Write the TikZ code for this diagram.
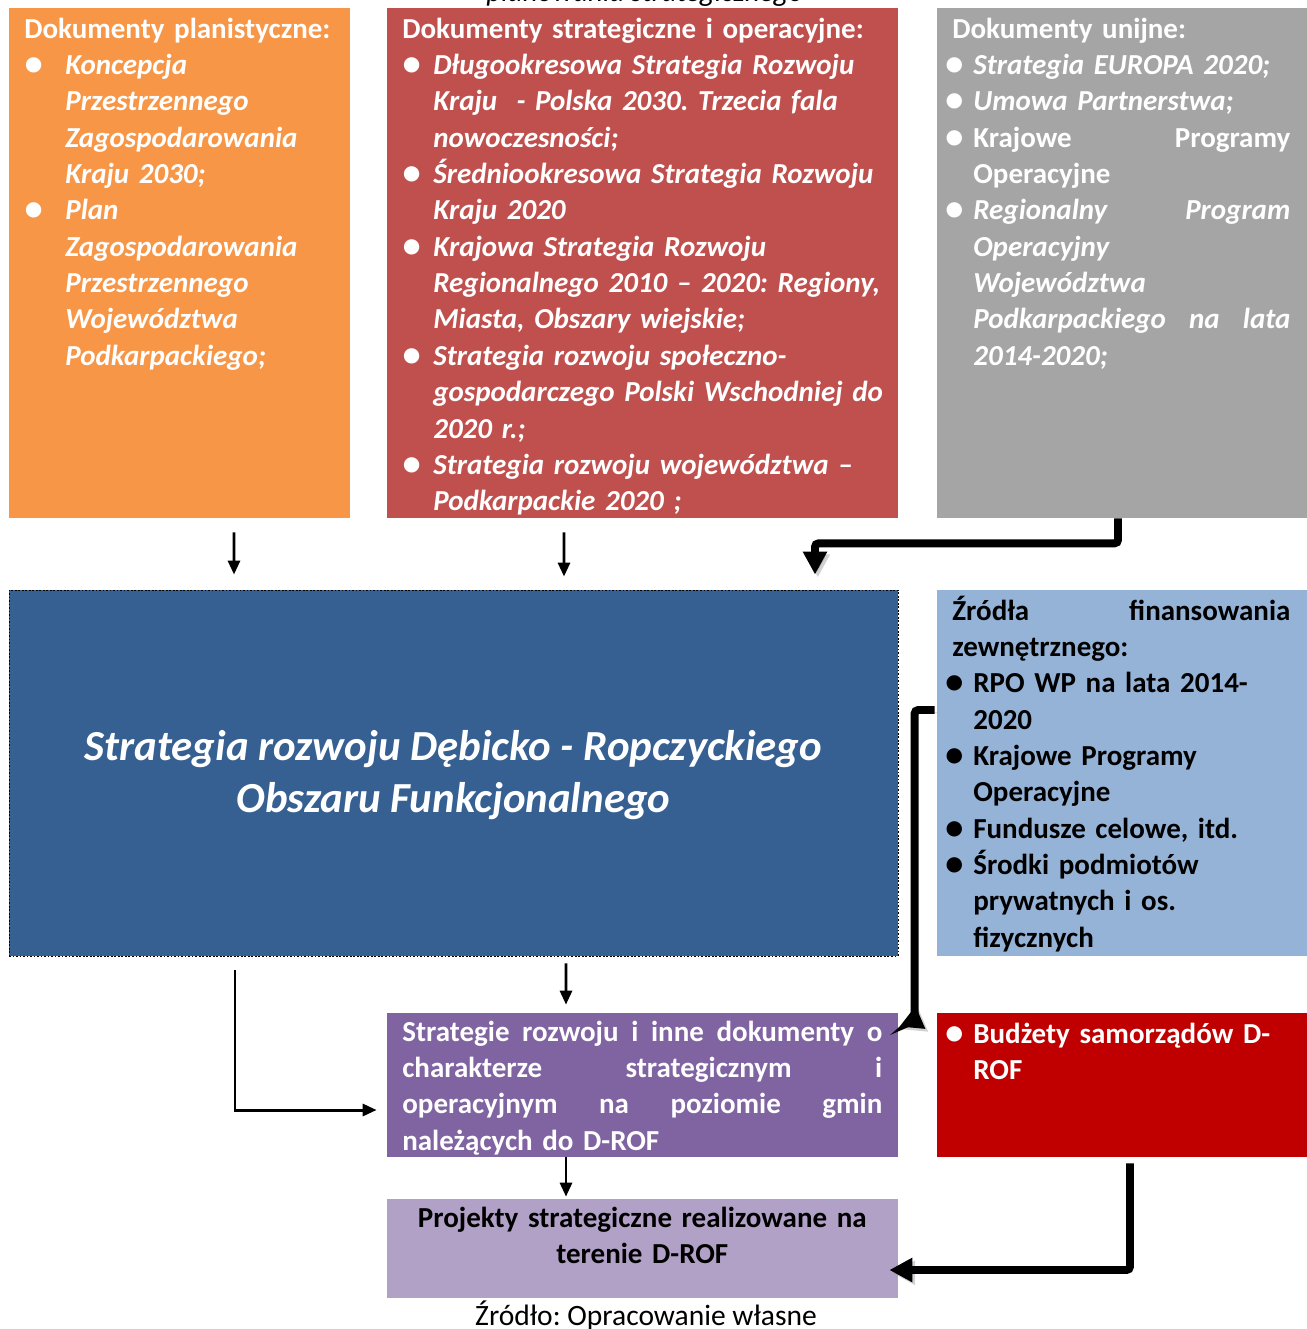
\documentclass[tikz,border=0pt]{standalone}
\usepackage{fontspec}
\setmainfont{Carlito}
\usetikzlibrary{calc,arrows.meta}

\definecolor{pomaranczowy}{HTML}{F79646}
\definecolor{czerwony}{HTML}{C0504D}
\definecolor{szary}{HTML}{A5A5A5}
\definecolor{niebieski}{HTML}{366092}
\definecolor{jasnoniebieski}{HTML}{95B3D7}
\definecolor{fioletowy}{HTML}{8064A2}
\definecolor{ciemnoczerwony}{HTML}{C00000}
\definecolor{jasnofioletowy}{HTML}{B2A1C7}

\newcommand{\pkt}[1]{\makebox[#1][l]{\raisebox{-0.6pt}{\scalebox{1.25}{\textbullet}}}}
\newcommand{\wc}[1]{\hspace*{#1}}
\frenchspacing

\begin{document}
\begin{tikzpicture}[x=0.02cm,y=-0.02cm,
    pole/.style={rectangle,inner sep=0pt,fill=#1},
    opis/.style={anchor=base west,inner sep=0pt,align=left,
        font=\fontsize{16.5}{20.7}\selectfont\bfseries},
    cienka/.style={line width=1.7pt,-{Triangle[length=0.28cm,width=0.24cm]}},
    gruba/.style={line width=4.5pt,rounded corners=2pt,
        -{Triangle[length=0.46cm,width=0.46cm]},
        preaction={draw=black!40,opacity=0.45,transform canvas={shift={(1.6pt,-1.6pt)}}}}]

    \useasboundingbox (0,0) rectangle (1307,1329);

    \node[pole=pomaranczowy,minimum width=341*0.02cm,minimum height=510*0.02cm] (plan) at (179.5,263) {};
    \node[pole=czerwony,minimum width=511*0.02cm,minimum height=510*0.02cm] (strat) at (642.5,263) {};
    \node[pole=szary,minimum width=370*0.02cm,minimum height=510*0.02cm] (unia) at (1122,263) {};
    \node[pole=niebieski,draw=black,dash pattern=on 1pt off 1pt,line width=0.5pt,
        minimum width=889*0.02cm,minimum height=366*0.02cm] (rozwoj) at (453.5,773) {};
    \node[pole=jasnoniebieski,minimum width=370*0.02cm,minimum height=366*0.02cm] (zrodla) at (1122,773) {};
    \node[pole=fioletowy,minimum width=511*0.02cm,minimum height=144*0.02cm] (gminy) at (642.5,1085) {};
    \node[pole=ciemnoczerwony,minimum width=370*0.02cm,minimum height=144*0.02cm] (budzet) at (1122,1085) {};
    \node[pole=jasnofioletowy,minimum width=511*0.02cm,minimum height=99*0.02cm] (projekty) at (642.5,1248.5) {};

    \node[anchor=base,inner sep=0pt,font=\fontsize{16.5}{20.7}\selectfont\itshape] (naglowek) at (645,1.5) {planowania strategicznego};

    \node[opis,text width=420*0.02cm,text=white] (plantxt) at (24,38) {Dokumenty planistyczne:\\
        \itshape\pkt{0.82cm}Koncepcja\\
        \wc{0.82cm}Przestrzennego\\
        \wc{0.82cm}Zagospodarowania\\
        \wc{0.82cm}Kraju 2030;\\
        \pkt{0.82cm}Plan\\
        \wc{0.82cm}Zagospodarowania\\
        \wc{0.82cm}Przestrzennego\\
        \wc{0.82cm}Województwa\\
        \wc{0.82cm}Podkarpackiego;};

    \node[opis,text width=600*0.02cm,text=white] (strattxt) at (402,38) {Dokumenty strategiczne i operacyjne:\\
        \itshape\pkt{0.62cm}Długookresowa Strategia Rozwoju\\
        \wc{0.62cm}Kraju\ \ - Polska 2030. Trzecia fala\\
        \wc{0.62cm}nowoczesności;\\
        \pkt{0.62cm}Średniookresowa Strategia Rozwoju\\
        \wc{0.62cm}Kraju 2020\\
        \pkt{0.62cm}Krajowa Strategia Rozwoju\\
        \wc{0.62cm}Regionalnego 2010 – 2020: Regiony,\\
        \wc{0.62cm}Miasta, Obszary wiejskie;\\
        \pkt{0.62cm}Strategia rozwoju społeczno-\\
        \wc{0.62cm}gospodarczego Polski Wschodniej do\\
        \wc{0.62cm}2020 r.;\\
        \pkt{0.62cm}Strategia rozwoju województwa –\\
        \wc{0.62cm}Podkarpackie 2020 ;};

    \node[opis,text width=345*0.02cm,text=white] (uniatxt) at (945,38) {\wc{0.14cm}Dokumenty unijne:\\
        \pkt{0.56cm}\textit{Strategia EUROPA 2020;}\\
        \pkt{0.56cm}\textit{Umowa Partnerstwa;}\\
        \pkt{0.56cm}Krajowe\hfill Programy\\
        \wc{0.56cm}Operacyjne\\
        \pkt{0.56cm}\textit{Regionalny}\hfill\textit{Program}\\
        \wc{0.56cm}\textit{Operacyjny}\\
        \wc{0.56cm}\textit{Województwa}\\
        \wc{0.56cm}\textit{Podkarpackiego}\hfill\textit{na}\hfill\textit{lata}\\
        \wc{0.56cm}\textit{2014-2020;}};

    \node[anchor=center,inner sep=0pt,align=center,text=white,
        font=\fontsize{24.4}{29.6}\selectfont\bfseries\itshape] (rozwojtxt) at (453.5,775)
        {Strategia rozwoju Dębicko - Ropczyckiego\\Obszaru Funkcjonalnego};

    \node[opis,text width=345*0.02cm] (zrodlatxt) at (945,620) {\wc{0.14cm}Źródła\hfill finansowania\\
        \wc{0.14cm}zewnętrznego:\\
        \pkt{0.56cm}RPO WP na lata 2014-\\
        \wc{0.56cm}2020\\
        \pkt{0.56cm}Krajowe Programy\\
        \wc{0.56cm}Operacyjne\\
        \pkt{0.56cm}Fundusze celowe, itd.\\
        \pkt{0.56cm}Środki podmiotów\\
        \wc{0.56cm}prywatnych i os.\\
        \wc{0.56cm}fizycznych};

    \node[opis,text width=480*0.02cm,text=white] (gminytxt) at (402,1041) {Strategie\hfill rozwoju\hfill i\hfill inne\hfill dokumenty\hfill o\\
        charakterze\hfill strategicznym\hfill i\\
        operacyjnym\hfill na\hfill poziomie\hfill gmin\\
        należących do D-ROF};

    \node[opis,text width=345*0.02cm,text=white] (budzettxt) at (945,1043) {\pkt{0.56cm}Budżety samorządów D-\\
        \wc{0.56cm}ROF};

    \node[opis,text width=480*0.02cm,align=center] (projektytxt) at (402,1227) {Projekty strategiczne realizowane na\\
        terenie D-ROF};

    \node[anchor=base,inner sep=0pt,font=\fontsize{16.8}{20.7}\selectfont] (zrodlo) at (646,1325) {Źródło: Opracowanie własne};

    \draw[cienka] ($(plan.south)+(54.5,14)$) -- ($(rozwoj.north)+(-219.5,-15)$);
    \draw[cienka] ($(strat.south)+(-78.5,14)$) -- ($(rozwoj.north)+(110.5,-13)$);
    \draw[cienka] ($(rozwoj.south)+(112.5,7)$) -- ($(gminy.north)+(-76.5,-8)$);
    \draw[cienka] ($(gminy.south)+(-76.5,0)$) -- ($(projekty.north)+(-76.5,-2)$);
    \draw[cienka] ($(rozwoj.south)+(-218.5,14)$) |- ($(gminy.west)+(-10,25)$);

    \draw[gruba] ($(unia.south)+(-4,0)$) -- ++(0,25) -| ($(rozwoj.north)+(361.5,-15)$);
    \draw[gruba] ($(zrodla.west)+(-2,-63)$) -- ++(-20,0) -- ++(0,310) -- ($(gminy.north east)+(1,14)$);
    \draw[gruba] ($(budzet.south)+(8,6)$) |- ($(projekty.east)+(-9,21.5)$);
\end{tikzpicture}
\end{document}
